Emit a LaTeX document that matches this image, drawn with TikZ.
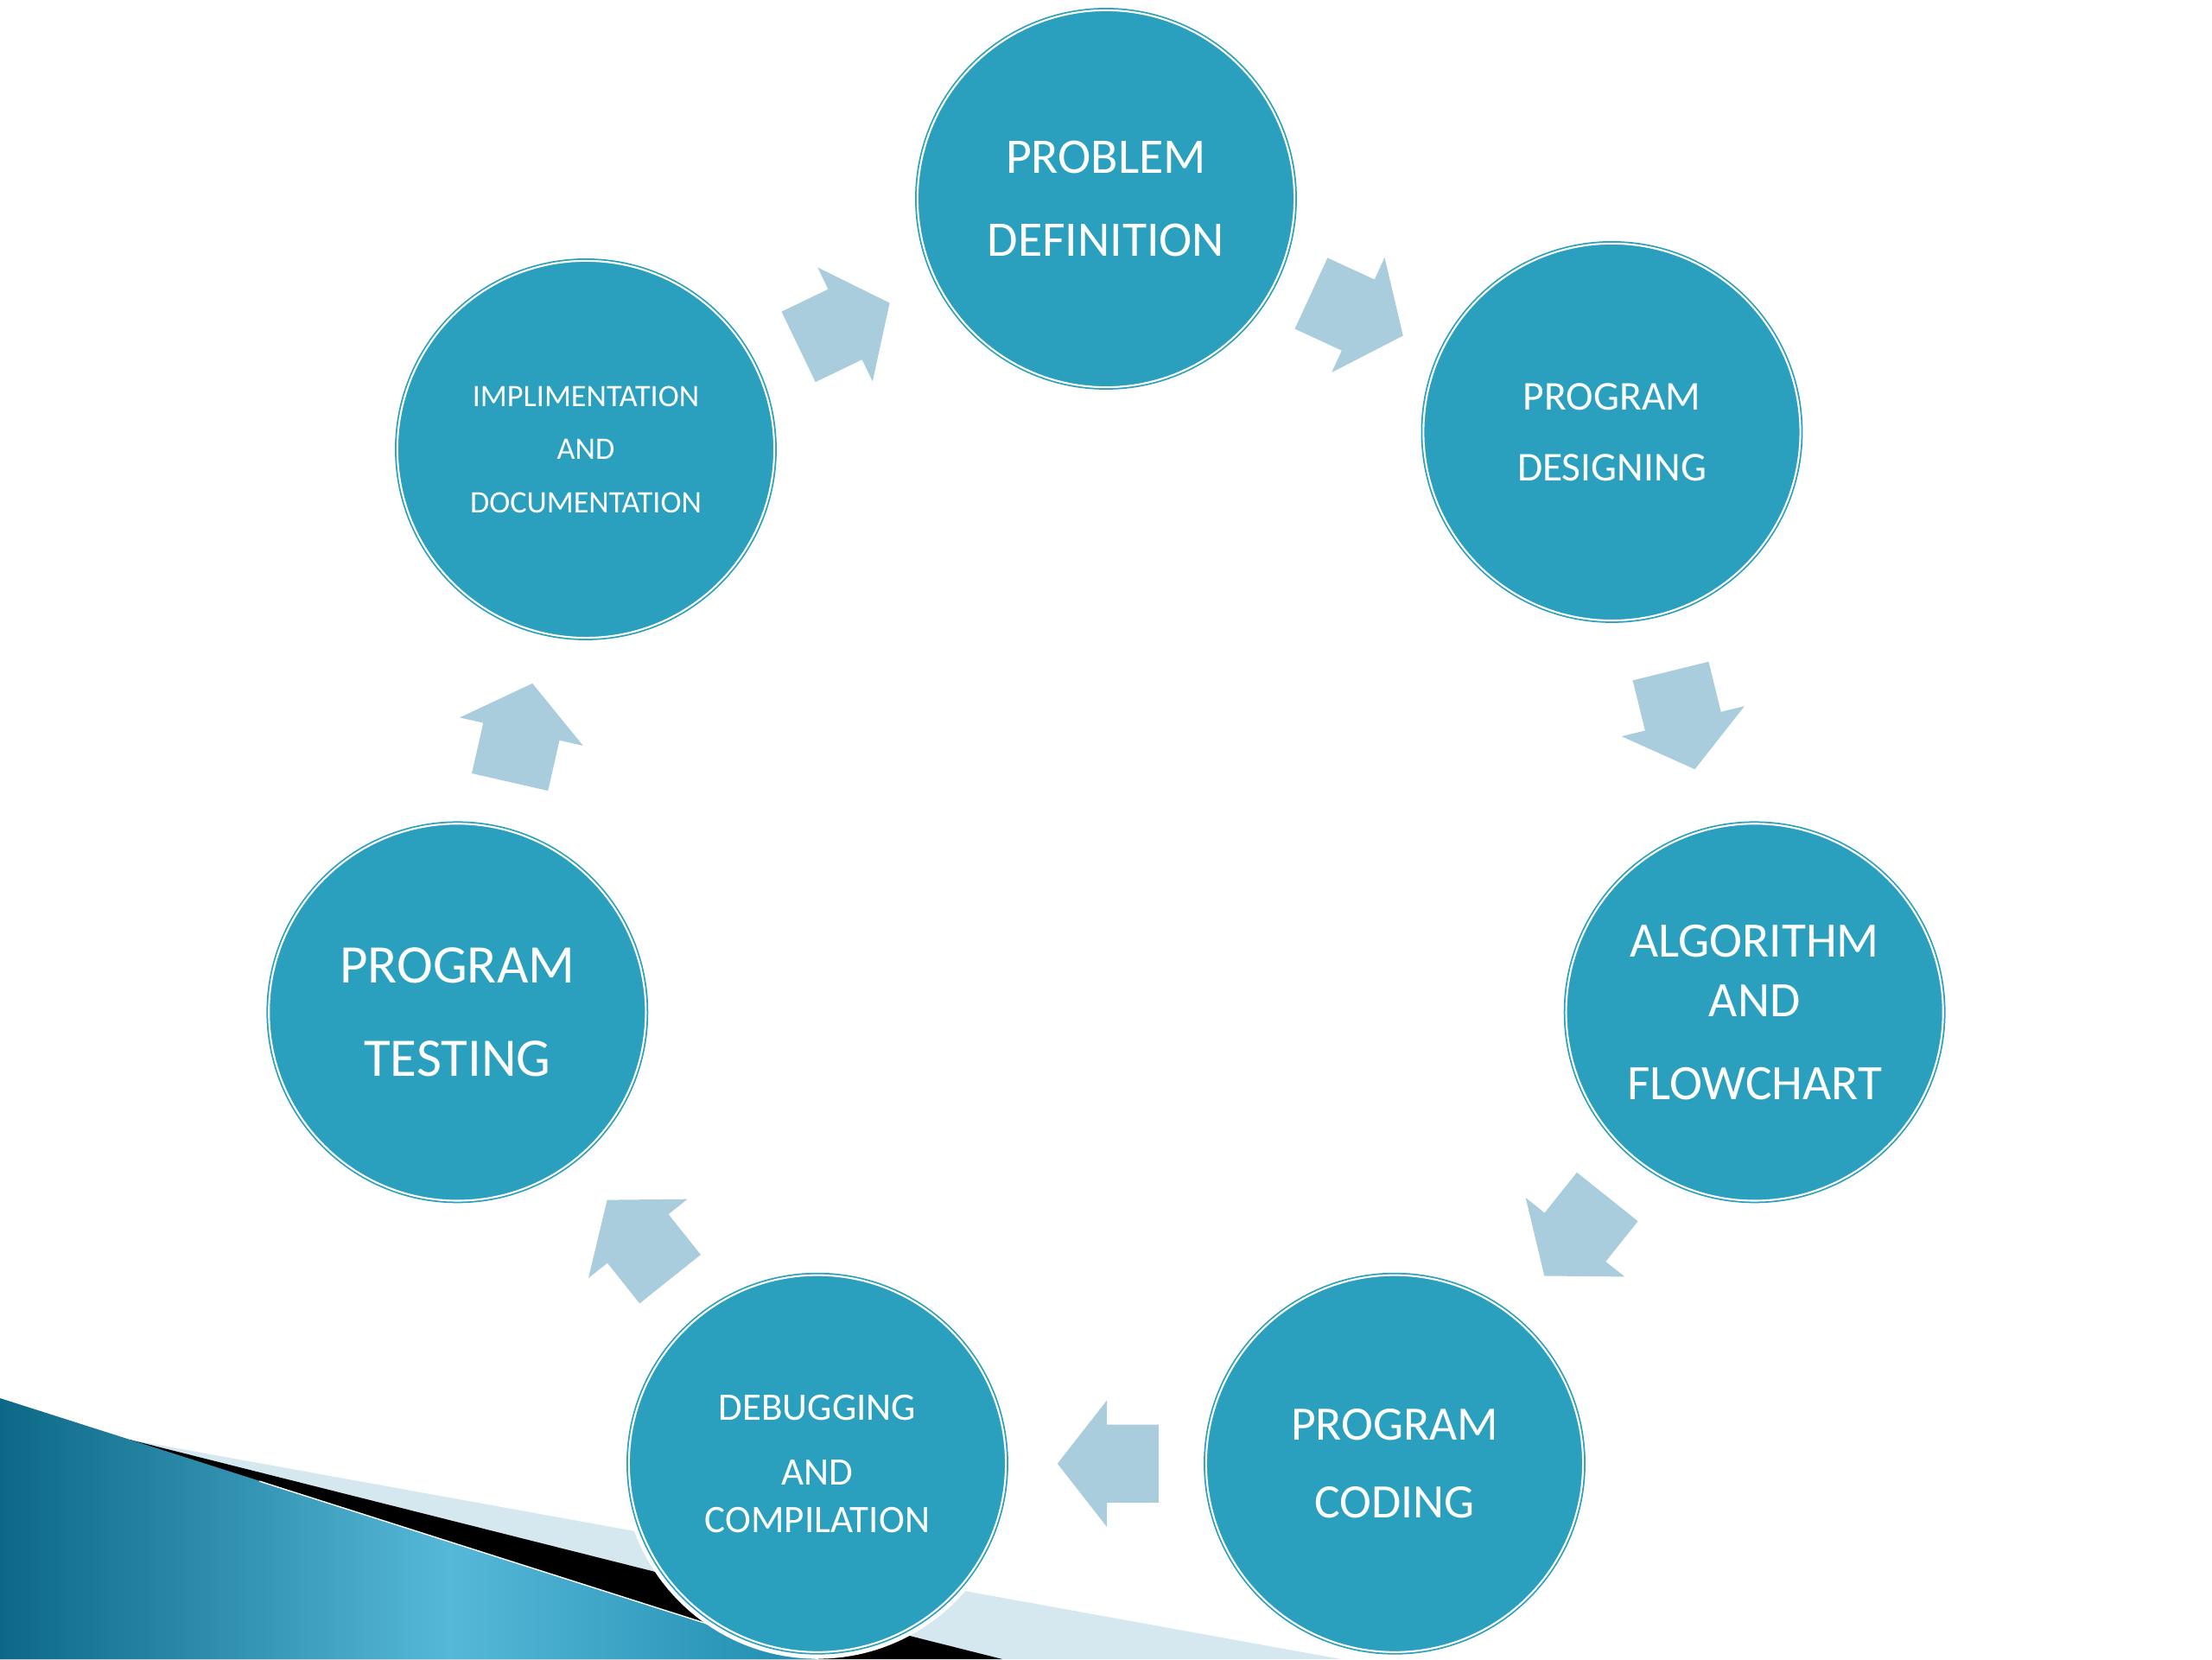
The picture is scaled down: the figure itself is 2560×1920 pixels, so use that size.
\documentclass[tikz,border=0pt]{standalone}
\usepackage{fontspec}
\setmainfont{Carlito}
\usetikzlibrary{calc,shapes.arrows}

\definecolor{stagefill}{RGB}{42,160,190}
\definecolor{arrowfill}{RGB}{169,205,221}
\definecolor{bandblue}{RGB}{213,232,240}
\definecolor{wedgedark}{RGB}{12,104,134}
\definecolor{wedgelight}{RGB}{86,184,216}
\definecolor{wedgeright}{RGB}{30,140,175}

\tikzset{
  stage/.style={circle, minimum size=4.36cm, inner sep=0pt, fill=stagefill,
    draw=stagefill, line width=0.5pt, double=white, double distance=0.6pt,
    preaction={draw=white, line width=4.4pt}, text=white, align=center},
  flowarrow/.style={single arrow, fill=arrowfill, draw=none, inner xsep=0pt,
    inner ysep=0.445cm, minimum height=1.17cm,
    single arrow head extend=0.28cm, single arrow tip angle=104}
}

% block arrow half way between two stages
\newcommand{\stagearrow}[3]{%
  \path let \p1=($(#3)-(#2)$), \n1={atan2(\y1,\x1)} in
    node[flowarrow, rotate=\n1] (#1) at ($(#2)!0.5!(#3)!0.2cm!(#2)$) {};}

\begin{document}
\begin{tikzpicture}[x=0.01cm, y=0.01cm]

  % Page
  \fill[white] (-1280,-920) rectangle (1280,1000);
  \useasboundingbox (-1280,-920) rectangle (1280,1000);

  % Corner decoration (bottom left)
  \fill[bandblue] (-1130,-666) -- (272,-920) -- (-1280,-920) -- cycle;
  \fill[black] (-1130,-666) -- (-120,-920) -- (-1280,-920) -- cycle;
  \begin{scope}
    \clip (-1280,-618) -- (-333,-920) -- (-1280,-920) -- cycle;
    \shade[left color=wedgedark, right color=wedgelight] (-1280,-920) rectangle (-760,-600);
    \shade[left color=wedgelight, right color=wedgeright] (-760,-920) rectangle (-333,-600);
  \end{scope}
  \draw[white, line width=0.4pt] (-980,-714) -- (-333,-920);

  % Center of the cycle
  \coordinate (O) at (0,0);

  % Radius of the cycle
  \def\R{770}

  % The seven stages, clockwise from the top
  \node[stage, font=\fontsize{16.4}{27.3}\selectfont] (prob) at (90:\R) {PROBLEM\\DEFINITION};
  \node[stage, font=\fontsize{13.5}{23.3}\selectfont] (design) at (40.5:\R) {PROGRAM\\DESIGNING};
  \node[stage, font=\fontsize{16.3}{19.6}\selectfont] (algo) at (-12.86:\R) {ALGORITHM\\AND\\[7.7pt]FLOWCHART};
  \node[stage, font=\fontsize{15.8}{25.6}\selectfont] (code) at (-64.29:\R) {PROGRAM\\CODING};
  \node[stage, font=\fontsize{12.8}{15.7}\selectfont] (debug) at (-115.71:\R) {DEBUGGING\\[5.6pt]AND\\COMPILATION};
  \node[stage, font=\fontsize{17.9}{30.7}\selectfont] (test) at (-167.14:\R) {PROGRAM\\TESTING};
  \node[stage, font=\fontsize{10.3}{17.5}\selectfont] (impl) at (141.43:\R) {IMPLIMENTATION\\AND\\DOCUMENTATION};

  % Arrows between the stages
  \stagearrow{a1}{prob}{design}
  \stagearrow{a2}{design}{algo}
  \stagearrow{a3}{algo}{code}
  \stagearrow{a4}{code}{debug}
  \stagearrow{a5}{debug}{test}
  \stagearrow{a6}{test}{impl}
  \stagearrow{a7}{impl}{prob}

\end{tikzpicture}
\end{document}
